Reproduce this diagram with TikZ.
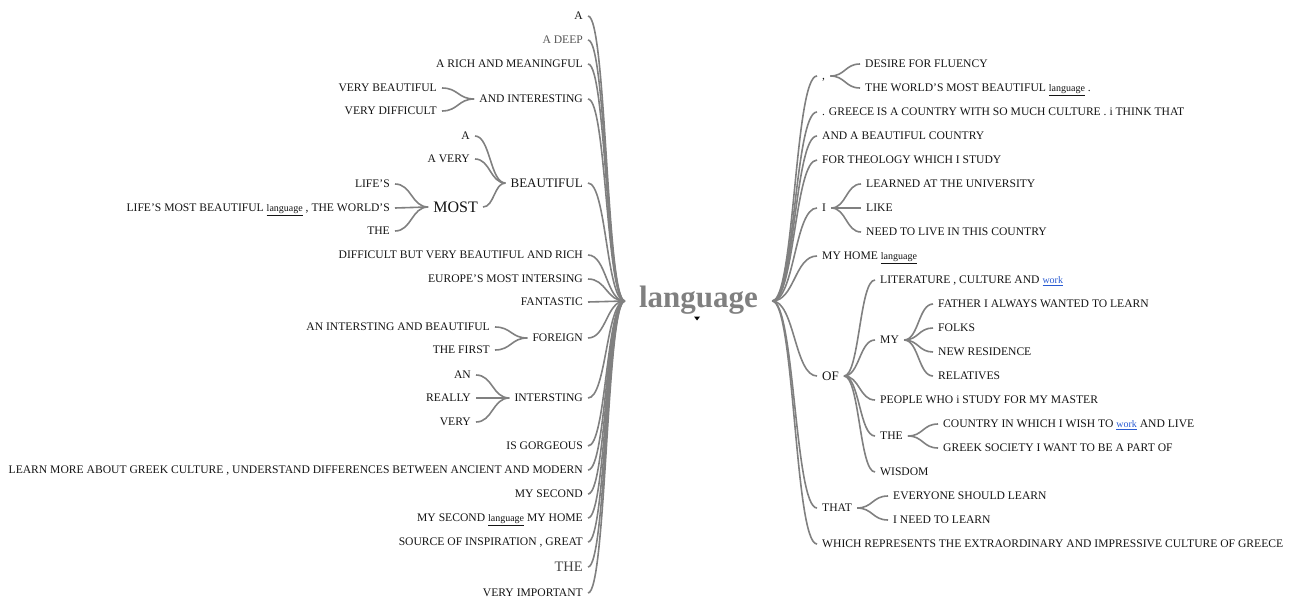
\documentclass[tikz,border=0pt]{standalone}
\usepackage{fontspec}
\setmainfont{Liberation Serif}
\usetikzlibrary{calc}
\definecolor{wtext}{RGB}{20,20,20}
\definecolor{wgrayA}{RGB}{85,85,85}
\definecolor{wgrayB}{RGB}{68,68,68}
\definecolor{wlinkc}{RGB}{128,128,128}
\definecolor{wroot}{RGB}{128,128,128}
\definecolor{wblue}{RGB}{40,90,210}
\newcommand\wlang{{\fontsize{10}{12}\selectfont\underline{language}}}
\newcommand\wwork{{\fontsize{10}{12}\selectfont\color{wblue}\underline{work}}}
\newcommand\wtlink[2]{\draw[link] let \p1=(#1.west), \p2=(#2.east), \n1={(\x1-\x2)/2} in (\p1) .. controls ($(\p1)+(-\n1,0pt)$) and ($(\p2)+(\n1,0pt)$) .. (\p2);}
\newcommand\wtrlink[2]{\draw[link] let \p1=(#1.east), \p2=(#2.west), \n1={(\x2-\x1)/2} in (\p1) .. controls ($(\p1)+(\n1,0pt)$) and ($(\p2)+(-\n1,0pt)$) .. (\p2);}
\tikzset{
  wt/.style={font=\fontsize{11.6}{14}\selectfont, text=wtext, inner xsep=5pt, inner ysep=0pt, text height=7.7pt, text depth=0pt},
  Lw/.style={wt, anchor=east},
  Rw/.style={wt, anchor=west},
  fsa/.style={font=\fontsize{13}{15}\selectfont, text height=8.6pt},
  fsb/.style={font=\fontsize{16}{19}\selectfont, text height=10.6pt},
  fsc/.style={font=\fontsize{14.5}{17}\selectfont, text height=9.6pt},
  link/.style={draw=wlinkc, line width=1.6pt},
}
\begin{document}
\begin{tikzpicture}[x=1pt,y=-1pt]
\useasboundingbox (0,0) rectangle (1292,599);
\node[font=\fontsize{31}{35}\selectfont\bfseries, text=wroot, minimum width=147pt, inner sep=0pt, text height=20pt, text depth=8pt] (root) at (698.5,301) {language};
\fill[black] (694,316.5) -- (700,316.5) -- (697,320.5) -- cycle;
% left
\node[Lw] (l1) at (588,16) {A};
\node[Lw, text=wgrayA] (l2) at (588,40) {A DEEP};
\node[Lw] (l3) at (588,64) {A RICH AND MEANINGFUL};
\node[Lw] (l4) at (588,99) {AND INTERESTING};
\node[Lw] (l4a) at (442,88) {VERY BEAUTIFUL};
\node[Lw] (l4b) at (442,111) {VERY DIFFICULT};
\node[Lw, fsa] (l5) at (588,183) {BEAUTIFUL};
\node[Lw] (l5a) at (475,136) {A};
\node[Lw] (l5b) at (475,159) {A VERY};
\node[Lw, fsb] (l5c) at (483,207) {MOST};
\node[Lw] (l5c1) at (395,184) {LIFE'S};
\node[Lw] (l5c2) at (395,208) {LIFE'S MOST BEAUTIFUL \wlang{} , THE WORLD'S};
\node[Lw] (l5c3) at (395,231) {THE};
\node[Lw] (l6) at (588,255) {DIFFICULT BUT VERY BEAUTIFUL AND RICH};
\node[Lw] (l7) at (588,279) {EUROPE'S MOST INTERSING};
\node[Lw] (l8) at (588,302) {FANTASTIC};
\node[Lw] (l9) at (588,338) {FOREIGN};
\node[Lw] (l9a) at (495,327) {AN INTERSTING AND BEAUTIFUL};
\node[Lw] (l9b) at (495,350) {THE FIRST};
\node[Lw] (l10) at (588,398) {INTERSTING};
\node[Lw] (l10a) at (476,375) {AN};
\node[Lw] (l10b) at (476,398) {REALLY};
\node[Lw] (l10c) at (476,422) {VERY};
\node[Lw] (l11) at (588,446) {IS GORGEOUS};
\node[Lw] (l12) at (588,470) {LEARN MORE ABOUT GREEK CULTURE , UNDERSTAND DIFFERENCES BETWEEN ANCIENT AND MODERN};
\node[Lw] (l13) at (588,494) {MY SECOND};
\node[Lw] (l14) at (588,518) {MY SECOND \wlang{} MY HOME};
\node[Lw] (l15) at (588,542) {SOURCE OF INSPIRATION , GREAT};
\node[Lw, fsc, text=wgrayB] (l16) at (588,567) {THE};
\node[Lw] (l17) at (588,593) {VERY IMPORTANT};
% right
\node[Rw] (r1) at (817,76) {,};
\node[Rw] (r1a) at (860,64) {DESIRE FOR FLUENCY};
\node[Rw] (r1b) at (860,88) {THE WORLD'S MOST BEAUTIFUL \wlang{} .};
\node[Rw] (r2) at (817,112) {. GREECE IS A COUNTRY WITH SO MUCH CULTURE . i THINK THAT};
\node[Rw] (r3) at (817,136) {AND A BEAUTIFUL COUNTRY};
\node[Rw] (r4) at (817,160) {FOR THEOLOGY WHICH I STUDY};
\node[Rw] (r5) at (817,208) {I};
\node[Rw] (r5a) at (861,184) {LEARNED AT THE UNIVERSITY};
\node[Rw] (r5b) at (861,208) {LIKE};
\node[Rw] (r5c) at (861,232) {NEED TO LIVE IN THIS COUNTRY};
\node[Rw] (r6) at (817,256) {MY HOME \wlang};
\node[Rw, fsa] (r7) at (817,376) {OF};
\node[Rw] (r7a) at (875,280) {LITERATURE , CULTURE AND \wwork};
\node[Rw] (r7b) at (875,340) {MY};
\node[Rw] (r7b1) at (933,304) {FATHER I ALWAYS WANTED TO LEARN};
\node[Rw] (r7b2) at (933,328) {FOLKS};
\node[Rw] (r7b3) at (933,352) {NEW RESIDENCE};
\node[Rw] (r7b4) at (933,376) {RELATIVES};
\node[Rw] (r7c) at (875,400) {PEOPLE WHO i STUDY FOR MY MASTER};
\node[Rw] (r7d) at (875,436) {THE};
\node[Rw] (r7d1) at (938,424) {COUNTRY IN WHICH I WISH TO \wwork{} AND LIVE};
\node[Rw] (r7d2) at (938,448) {GREEK SOCIETY I WANT TO BE A PART OF};
\node[Rw] (r7e) at (875,472) {WISDOM};
\node[Rw] (r8) at (817,508) {THAT};
\node[Rw] (r8a) at (888,496) {EVERYONE SHOULD LEARN};
\node[Rw] (r8b) at (888,520) {I NEED TO LEARN};
\node[Rw] (r9) at (817,544) {WHICH REPRESENTS THE EXTRAORDINARY AND IMPRESSIVE CULTURE OF GREECE};
% left links
\foreach \c in {l1,l2,l3,l4,l5,l6,l7,l8,l9,l10,l11,l12,l13,l14,l15,l16,l17} {\wtlink{root}{\c}}
\wtlink{l4}{l4a}\wtlink{l4}{l4b}
\wtlink{l5}{l5a}\wtlink{l5}{l5b}\wtlink{l5}{l5c}
\wtlink{l5c}{l5c1}\wtlink{l5c}{l5c2}\wtlink{l5c}{l5c3}
\wtlink{l9}{l9a}\wtlink{l9}{l9b}
\wtlink{l10}{l10a}\wtlink{l10}{l10b}\wtlink{l10}{l10c}
% right links
\foreach \c in {r1,r2,r3,r4,r5,r6,r7,r8,r9} {\wtrlink{root}{\c}}
\wtrlink{r1}{r1a}\wtrlink{r1}{r1b}
\wtrlink{r5}{r5a}\wtrlink{r5}{r5b}\wtrlink{r5}{r5c}
\wtrlink{r7}{r7a}\wtrlink{r7}{r7b}\wtrlink{r7}{r7c}\wtrlink{r7}{r7d}\wtrlink{r7}{r7e}
\wtrlink{r7b}{r7b1}\wtrlink{r7b}{r7b2}\wtrlink{r7b}{r7b3}\wtrlink{r7b}{r7b4}
\wtrlink{r7d}{r7d1}\wtrlink{r7d}{r7d2}
\wtrlink{r8}{r8a}\wtrlink{r8}{r8b}
\end{tikzpicture}
\end{document}
